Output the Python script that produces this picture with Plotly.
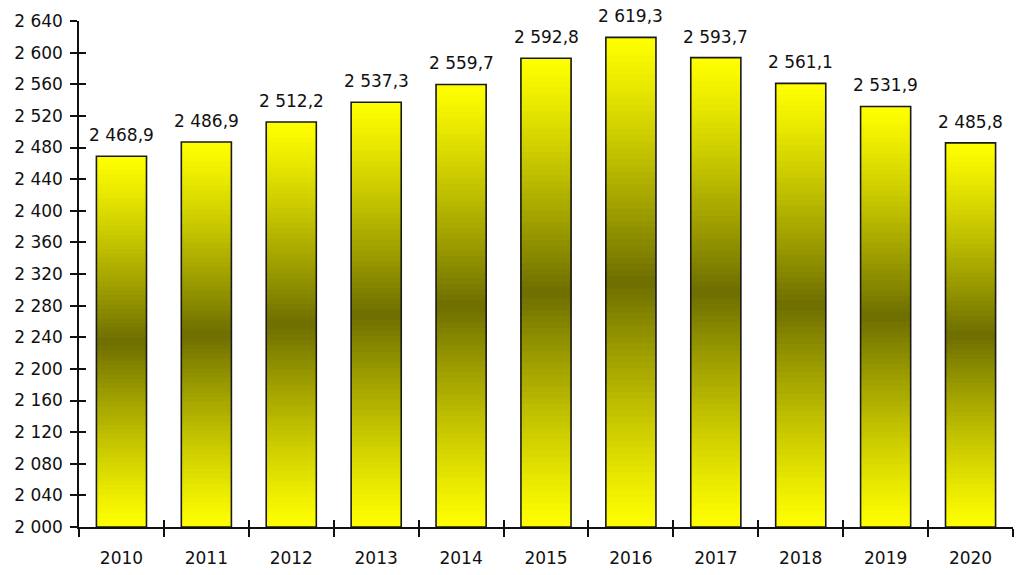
import plotly.graph_objects as go

# ---- data ----
years = ["2010", "2011", "2012", "2013", "2014", "2015", "2016", "2017", "2018", "2019", "2020"]
values = [2468.9, 2486.9, 2512.2, 2537.3, 2559.7, 2592.8, 2619.3, 2593.7, 2561.1, 2531.9, 2485.8]
y_min = 2000
y_max = 2640
y_tick_step = 40

labels = [f"{v:,.1f}".replace(",", " ").replace(".", ",") for v in values]

FONT = "DejaVu Sans, Liberation Sans, Arial, sans-serif"
N = 80  # gradient strips per bar

fig = go.Figure()

# gradient fill: strips covering from strip start up to bar top, drawn bottom-up
for k in range(N):
    t = (k + 0.5) / N
    d = 1 - abs(2 * t - 1)
    v = 255 - 145 * d ** 1.15
    c = int(round(v))
    color = f"rgb({c},{c},0)"
    bases = [y_min + (val - y_min) * k / N for val in values]
    heights = [val - bs for val, bs in zip(values, bases)]
    fig.add_trace(go.Bar(
        x=years, y=heights, base=bases,
        marker=dict(color=color, line=dict(width=0)),
        hoverinfo="skip", showlegend=False,
        xaxis="x", yaxis="y",
    ))

# outline
fig.add_trace(go.Bar(
    x=years, y=[v - y_min for v in values], base=[y_min] * len(values),
    marker=dict(color="rgba(0,0,0,0)", line=dict(color="#1a1a1a", width=1.6)),
    showlegend=False, xaxis="x2", yaxis="y2", hoverinfo="skip",
))

# value labels (category index used as x position)
for i, (val, lab) in enumerate(zip(values, labels)):
    fig.add_annotation(
        x=i, y=val, xref="x", yref="y", text=lab, showarrow=False,
        yanchor="bottom", yshift=9,
        font=dict(family=FONT, size=17, color="#111"),
    )

tickvals = list(range(y_min, y_max + 1, y_tick_step))
ticktext = [f"{v:,}".replace(",", " ") for v in tickvals]

axis_font = dict(family=FONT, size=17, color="#111")
fig.update_layout(
    width=1024, height=575,
    margin=dict(l=79, r=11, t=21, b=48),
    plot_bgcolor="white", paper_bgcolor="white",
    barmode="overlay", bargap=0.41,
    font=axis_font,
    xaxis=dict(
        type="category", showgrid=False, showline=True, linecolor="#111", linewidth=1.5,
        ticks="outside", tickson="boundaries", ticklen=8, tickwidth=1.5, tickcolor="#111",
        tickfont=axis_font, range=[-0.5, 10.5], ticklabelstandoff=15, automargin=False,
    ),
    xaxis2=dict(
        type="category", overlaying="x", showgrid=False, showline=False,
        ticks="inside", tickson="boundaries", ticklen=7, tickwidth=1.5, tickcolor="#111",
        showticklabels=False, range=[-0.5, 10.5], side="bottom", automargin=False,
    ),
    yaxis=dict(
        range=[y_min, y_max], showgrid=False, showline=True, linecolor="#111", linewidth=1.5,
        ticks="outside", ticklen=7, tickwidth=1.5, tickcolor="#111",
        tickvals=tickvals, ticktext=ticktext, tickfont=axis_font, zeroline=False,
        ticklabelstandoff=4, automargin=False,
    ),
    yaxis2=dict(
        range=[y_min, y_max], overlaying="y", showgrid=False, showline=False,
        ticks="inside", ticklen=7, tickwidth=1.5, tickcolor="#111",
        tickvals=tickvals, showticklabels=False, zeroline=False, side="left",
        automargin=False,
    ),
)

fig.write_html("out.html", config={"displayModeBar": False},
               post_script="document.body.style.margin='0';")
